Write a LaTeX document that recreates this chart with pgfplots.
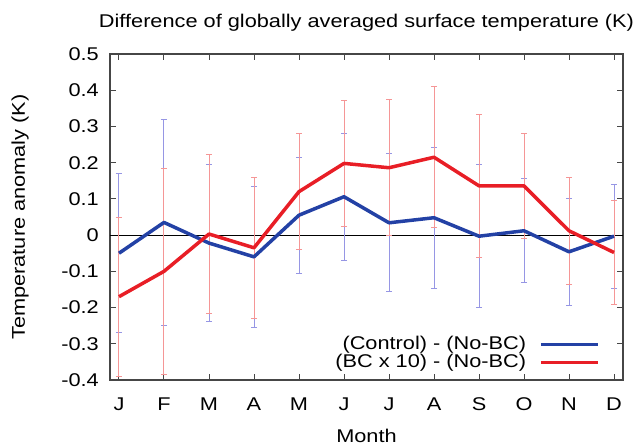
\documentclass[border=0pt]{standalone}
\usepackage{fontspec}
\setmainfont[FakeStretch=1.18]{Liberation Sans}
\usepackage{pgfplots}
\usepackage{pgfplotstable}
\pgfplotsset{compat=1.18}

\definecolor{ctrlline}{RGB}{35,65,165}
\definecolor{ctrlbar}{RGB}{150,150,228}
\definecolor{bcline}{RGB}{232,30,38}
\definecolor{bcbar}{RGB}{245,150,150}
\definecolor{axisgray}{RGB}{70,70,70}

% month, (Control)-(No-BC) mean and spread, (BC x 10)-(No-BC) mean and spread
\pgfplotstableread{
month ctrl  ctrlerr  bc     bcerr
1    -0.050 0.220   -0.170  0.220
2     0.035 0.285   -0.100  0.285
3    -0.022 0.217    0.003  0.220
4    -0.060 0.195   -0.035  0.195
5     0.055 0.160    0.120  0.160
6     0.106 0.175    0.198  0.175
7     0.034 0.190    0.186  0.188
8     0.048 0.195    0.215  0.195
9    -0.003 0.197    0.136  0.197
10    0.012 0.143    0.136  0.145
11   -0.046 0.147    0.012  0.147
12   -0.003 0.144   -0.048  0.144
}\anomaly

\begin{document}
\fontsize{18.5}{21}\selectfont
\begin{tikzpicture}
% page frame around the axis box
\path[use as bounding box] (-110bp,-65bp) rectangle (529bp,380bp);
\begin{axis}[
  at={(0,0)}, anchor=south west,
  scale only axis,
  width=513bp, height=326bp,
  xmin=0.8, xmax=12.2,
  ymin=-0.4, ymax=0.5,
  xtick={1,2,3,4,5,6,7,8,9,10,11,12},
  xticklabels={J,F,M,A,M,J,J,A,S,O,N,D},
  ytick={-0.4,-0.3,-0.2,-0.1,0,0.1,0.2,0.3,0.4,0.5},
  yticklabels={-0.4,-0.3,-0.2,-0.1,0,0.1,0.2,0.3,0.4,0.5},
  tick align=inside,
  major tick length=6bp,
  tick style={line width=1bp, color=axisgray},
  axis line style={line width=1.5bp, color=axisgray},
  xticklabel style={anchor=base, inner sep=0pt, yshift=-30bp},
  yticklabel style={anchor=east, inner sep=0pt, xshift=-11bp},
  every axis title/.style={at={(axis description cs:0.5,1.0798)}, anchor=base},
  every axis x label/.style={at={(axis description cs:0.5,-0.1902)}, anchor=base},
  every axis y label/.style={at={(axis description cs:-0.1657,0.5)}, anchor=base, rotate=90},
  title={Difference of globally averaged surface temperature (K)},
  xlabel={Month},
  ylabel={Temperature anomaly (K)},
  legend plot pos=right,
  legend cell align=right,
  legend image code/.code={\draw[#1] (0bp,0bp) -- (57bp,0bp);},
  legend style={draw=none, fill=none, at={(axis description cs:0.955,0.025)},
    anchor=south east, inner sep=0pt, row sep=0pt, column sep=12bp,
    nodes={inner sep=1bp}},
]
% zero reference line
\addplot[black, line width=0.9bp, forget plot] coordinates {(0.8,0) (12.2,0)};

% spread of each experiment, drawn under the mean curves
\addplot[ctrlbar, line width=0.8bp, mark=none, forget plot,
  error bars/.cd, y dir=both, y explicit,
  error bar style={ctrlbar, line width=1bp},
  error mark options={ctrlbar, line width=1bp, mark size=3bp, rotate=90}]
  table[x=month, y=ctrl, y error=ctrlerr] {\anomaly};
\addplot[bcbar, line width=0.8bp, mark=none, forget plot,
  error bars/.cd, y dir=both, y explicit,
  error bar style={bcbar, line width=1bp},
  error mark options={bcbar, line width=1bp, mark size=3bp, rotate=90}]
  table[x=month, y=bc, y error=bcerr] {\anomaly};

% monthly means
\addplot[ctrlline, line width=3.5bp, mark=none, line join=round]
  table[x=month, y=ctrl] {\anomaly};
\addlegendentry{(Control) - (No-BC)}
\addplot[bcline, line width=3.5bp, mark=none, line join=round]
  table[x=month, y=bc] {\anomaly};
\addlegendentry{(BC x 10) - (No-BC)}
\end{axis}
\end{tikzpicture}
\end{document}
